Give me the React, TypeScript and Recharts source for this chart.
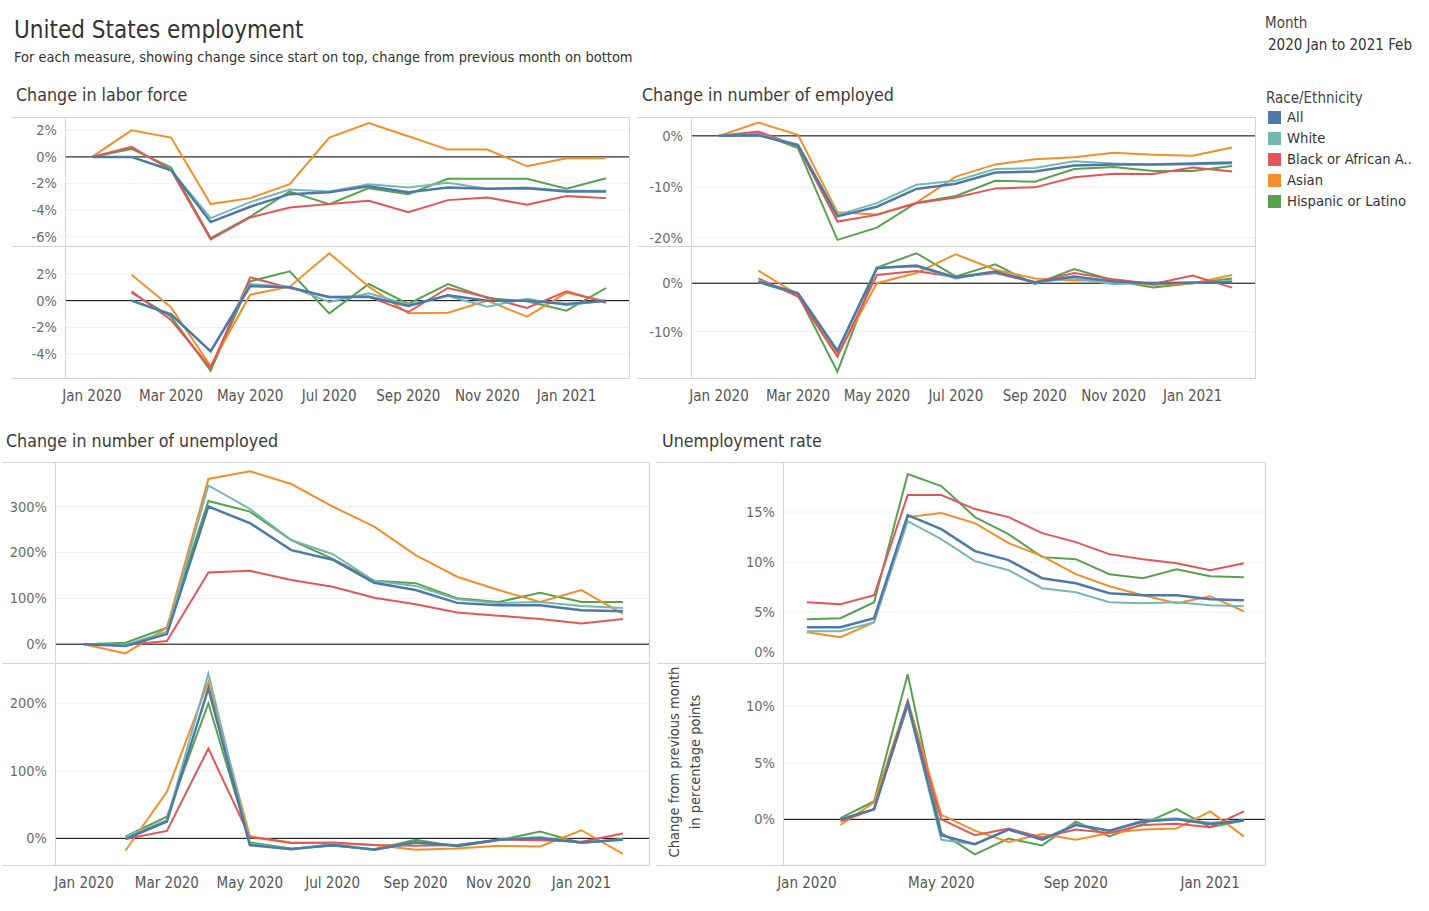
import React from "react";
import { LineChart, Line, XAxis, YAxis, CartesianGrid, ReferenceLine } from "recharts";

const FONT = "'DejaVu Sans Condensed', 'Liberation Sans Narrow', 'Arial Narrow', sans-serif";

const months = ["Jan 2020", "Feb 2020", "Mar 2020", "Apr 2020", "May 2020", "Jun 2020", "Jul 2020", "Aug 2020", "Sep 2020", "Oct 2020", "Nov 2020", "Dec 2020", "Jan 2021", "Feb 2021"];
const seriesKeys = ["hispanic", "asian", "black", "white", "all"];
const legendKeys = ["all", "white", "black", "asian", "hispanic"];
const legendLabels: Record<string, string> = { all: "All", white: "White", black: "Black or African A..", asian: "Asian", hispanic: "Hispanic or Latino" };
const seriesColors: Record<string, string> = { all: "#4e79a7", white: "#76b7b2", black: "#e15759", asian: "#f28e2b", hispanic: "#59a14f" };

// Change in labor force since Jan 2020 (%)
const laborSinceStart: Record<string, (number | null)[]> = {
  all: [0, 0, -1.0, -4.9, -3.75, -2.8, -2.65, -2.2, -2.65, -2.3, -2.4, -2.35, -2.6, -2.6],
  white: [0, 0, -1.0, -4.6, -3.4, -2.45, -2.6, -2.05, -2.3, -1.95, -2.4, -2.3, -2.55, -2.55],
  black: [0, 0.75, -1.0, -6.2, -4.55, -3.8, -3.55, -3.3, -4.15, -3.25, -3.05, -3.6, -2.95, -3.1],
  asian: [0, 2.0, 1.45, -3.55, -3.1, -2.05, 1.45, 2.55, 1.55, 0.55, 0.55, -0.7, -0.1, -0.1],
  hispanic: [0, 0.6, -0.8, -6.1, -4.5, -2.6, -3.55, -2.35, -2.8, -1.65, -1.65, -1.65, -2.4, -1.6],
};
// Change in labor force from previous month (%)
const laborMonthly: Record<string, (number | null)[]> = {
  all: [null, 0, -1.05, -3.8, 1.1, 1.0, 0.25, 0.3, -0.4, 0.4, 0, 0, -0.25, 0],
  white: [null, 0, -1.0, -3.8, 1.25, 1.05, -0.1, 0.55, -0.3, 0.35, -0.45, 0.15, -0.35, 0],
  black: [null, 0.7, -1.45, -5.05, 1.75, 0.95, 0.3, 0.3, -0.85, 0.95, 0.25, -0.55, 0.7, -0.15],
  asian: [null, 1.95, -0.5, -4.9, 0.45, 1.05, 3.55, 1.05, -0.95, -0.9, 0.0, -1.2, 0.6, -0.05],
  hispanic: [null, 0.6, -1.2, -5.25, 1.45, 2.2, -0.95, 1.25, -0.25, 1.25, 0.2, -0.05, -0.75, 0.95],
};
// Change in number employed since Jan 2020 (%)
const employedSinceStart: Record<string, (number | null)[]> = {
  all: [0, 0.1, -1.8, -15.8, -13.9, -10.4, -9.4, -7.2, -7.0, -5.8, -5.6, -5.6, -5.4, -5.2],
  white: [0, 0.3, -1.7, -15.5, -13.2, -9.6, -8.8, -6.5, -6.3, -5.0, -5.4, -5.6, -5.6, -5.4],
  black: [0, 0.85, -2.0, -16.8, -15.5, -13.2, -12.1, -10.3, -10.1, -8.1, -7.45, -7.5, -6.2, -7.0],
  asian: [0, 2.6, 0.2, -15.0, -15.4, -13.1, -8.0, -5.6, -4.6, -4.2, -3.3, -3.7, -3.9, -2.3],
  hispanic: [0, 0.5, -2.4, -20.4, -18.0, -13.1, -11.8, -8.8, -9.0, -6.5, -6.1, -6.9, -6.9, -5.9],
};
// Change in number employed from previous month (%)
const employedMonthly: Record<string, (number | null)[]> = {
  all: [null, 0.35, -2.1, -14.0, 3.1, 3.65, 1.2, 2.4, 0.2, 1.4, 0.35, 0, 0.15, 0.2],
  white: [null, 0.4, -2.0, -13.9, 3.3, 3.45, 1.0, 2.4, 0.2, 1.0, -0.2, 0.15, 0, 0.5],
  black: [null, 1.0, -2.75, -15.2, 1.7, 2.55, 1.25, 2.1, 0.2, 2.1, 0.8, -0.15, 1.6, -0.9],
  asian: [null, 2.6, -2.4, -14.8, 0.0, 2.1, 6.0, 2.8, 1.0, 0.55, 0.55, -0.35, 0, 1.7],
  hispanic: [null, 0.2, -2.3, -18.3, 3.25, 6.2, 1.4, 3.9, -0.2, 2.95, 0.55, -0.9, 0, 1.0],
};
// Change in number unemployed since Jan 2020 (%)
const unemployedSinceStart: Record<string, (number | null)[]> = {
  all: [0, -4, 22, 300, 264, 205, 184, 134, 118, 90, 85, 85, 74, 72],
  white: [0, -1, 27, 346, 295, 227, 196, 138, 127, 98, 90, 92, 83, 79],
  black: [0, -2, 7, 156, 160, 140, 125, 101, 87, 69, 62, 55, 45, 55],
  asian: [0, -20, 36, 360, 377, 349, 300, 256, 194, 147, 118, 92, 118, 66],
  hispanic: [0, 3, 36, 312, 289, 227, 186, 138, 133, 100, 92, 112, 92, 92],
};
// Change in number unemployed from previous month (%)
const unemployedMonthly: Record<string, (number | null)[]> = {
  all: [null, -1, 25, 222, -10, -16, -10, -17, -6, -11, -2, 0, -6, -2],
  white: [null, 3, 27, 244, -8, -16, -8, -17, -7, -10, -2, 2, -7, -1],
  black: [null, -1, 11, 133, 2, -7, -6, -10, -11, -10, -2, -3, -5, 7],
  asian: [null, -18, 69, 232, 3, -6, -7, -10, -17, -15, -11, -12, 12, -23],
  hispanic: [null, 3, 32, 200, -6, -15, -11, -16, -2, -12, -3, 10, -7, -1],
};
// Unemployment rate (%)
const unemploymentRate: Record<string, (number | null)[]> = {
  all: [3.5, 3.5, 4.4, 14.7, 13.3, 11.1, 10.2, 8.4, 7.9, 6.9, 6.7, 6.7, 6.3, 6.2],
  white: [3.1, 3.1, 4.0, 14.1, 12.3, 10.1, 9.2, 7.4, 7.0, 6.0, 5.9, 6.0, 5.7, 5.6],
  black: [6.0, 5.8, 6.7, 16.7, 16.7, 15.3, 14.5, 12.9, 12.0, 10.8, 10.3, 9.9, 9.2, 9.9],
  asian: [3.0, 2.5, 4.0, 14.5, 14.9, 13.9, 11.9, 10.6, 8.8, 7.6, 6.7, 5.9, 6.6, 5.1],
  hispanic: [4.3, 4.4, 6.0, 18.8, 17.6, 14.5, 12.8, 10.5, 10.3, 8.8, 8.4, 9.3, 8.6, 8.5],
};
// Unemployment rate change from previous month (percentage points)
const rateMonthly: Record<string, (number | null)[]> = {
  all: [null, 0, 0.9, 10.3, -1.4, -2.2, -0.9, -1.8, -0.5, -1.0, -0.2, 0, -0.4, -0.1],
  white: [null, 0, 0.9, 10.1, -1.8, -2.2, -0.9, -1.8, -0.4, -1.0, -0.1, 0.1, -0.3, -0.1],
  black: [null, -0.2, 0.9, 10.0, 0, -1.4, -0.8, -1.6, -0.9, -1.2, -0.5, -0.4, -0.7, 0.7],
  asian: [null, -0.5, 1.5, 10.5, 0.4, -1.0, -2.0, -1.3, -1.8, -1.2, -0.9, -0.8, 0.7, -1.5],
  hispanic: [null, 0.1, 1.6, 12.8, -1.2, -3.1, -1.7, -2.3, -0.2, -1.5, -0.4, 0.9, -0.7, -0.1],
};

const xTicksEvery2 = [0, 2, 4, 6, 8, 10, 12];
const xTicksEvery4 = [0, 4, 8, 12];

function buildRows(src: Record<string, (number | null)[]>) {
  return months.map((m, i) => {
    const r: any = { i, month: m };
    seriesKeys.forEach((k) => (r[k] = src[k][i]));
    return r;
  });
}

const FRAME = "#d4d4d4";

type SubProps = {
  frameLeft: number;
  frameRight: number;
  axisX: number;
  top: number;
  bottom: number;
  src: Record<string, (number | null)[]>;
  xDomain: [number, number];
  yDomain: [number, number];
  yTicks: number[];
  zeroLine?: boolean;
  xTicks?: number[];
  zeroLabelShift?: number;
};

function SubChart(p: SubProps) {
  const width = p.frameRight - p.frameLeft;
  const plotH = p.bottom - p.top;
  const xAxisH = p.xTicks ? 40 : 0;
  const axisW = p.axisX - p.frameLeft;
  const data = buildRows(p.src);

  const YTick = (props: any) => {
    const v = props.payload.value;
    const dy = v === 0 && p.zeroLabelShift ? p.zeroLabelShift : 0;
    return (
      <text x={axisW - 8} y={props.y + dy} textAnchor="end" dominantBaseline="central" fontSize={14.5} fill="#6b6b6b" fontFamily={FONT}>
        {`${v}%`}
      </text>
    );
  };
  const XTick = (props: any) => (
    <text x={props.x} y={plotH + 18} textAnchor="middle" dominantBaseline="central" fontSize={15} fill="#555" fontFamily={FONT}>
      {months[props.payload.value]}
    </text>
  );

  return (
    <div style={{ position: "absolute", left: p.frameLeft, top: p.top }}>
      <LineChart width={width} height={plotH + xAxisH} data={data} margin={{ top: 0, right: 0, bottom: 0, left: 0 }}>
        <CartesianGrid vertical={false} stroke="#f0f0f0" />
        {p.xTicks ? (
          <XAxis dataKey="i" type="number" domain={p.xDomain} ticks={p.xTicks} interval={0} height={xAxisH} axisLine={false} tickLine={false} tick={<XTick />} allowDataOverflow />
        ) : (
          <XAxis dataKey="i" type="number" domain={p.xDomain} hide allowDataOverflow />
        )}
        <YAxis type="number" domain={p.yDomain} ticks={p.yTicks} interval={0} width={axisW} axisLine={false} tickLine={false} tick={<YTick />} allowDataOverflow />
        {p.zeroLine !== false && <ReferenceLine y={0} stroke="#000" strokeWidth={1} />}
        {seriesKeys.map((k) => (
          <Line key={k} type="linear" dataKey={k} stroke={seriesColors[k]} strokeWidth={k === "all" ? 2.5 : 2} dot={false} activeDot={false} isAnimationActive={false} connectNulls={false} />
        ))}
      </LineChart>
    </div>
  );
}

type PanelProps = {
  title: string;
  titleX: number;
  titleY: number;
  frameLeft: number;
  frameRight: number;
  axisX: number;
  top: number;
  sep: number;
  bottom: number;
  xDomain: [number, number];
  xTicks: number[];
  topSrc: Record<string, (number | null)[]>;
  botSrc: Record<string, (number | null)[]>;
  topDomain: [number, number];
  botDomain: [number, number];
  topTicks: number[];
  botTicks: number[];
  topZero?: boolean;
  topZeroShift?: number;
};

function Hline({ x1, x2, y }: { x1: number; x2: number; y: number }) {
  return <div style={{ position: "absolute", left: x1, top: y, width: x2 - x1, height: 1, background: FRAME }} />;
}
function Vline({ x, y1, y2 }: { x: number; y1: number; y2: number }) {
  return <div style={{ position: "absolute", left: x, top: y1, width: 1, height: y2 - y1, background: FRAME }} />;
}

function Panel(p: PanelProps) {
  return (
    <>
      <div style={{ position: "absolute", left: p.titleX, top: p.titleY - 12, height: 24, lineHeight: "24px", fontSize: 17.7, color: "#3a3a3a", fontFamily: FONT, whiteSpace: "nowrap" }}>
        {p.title}
      </div>
      <SubChart frameLeft={p.frameLeft} frameRight={p.frameRight} axisX={p.axisX} top={p.top} bottom={p.sep} src={p.topSrc} xDomain={p.xDomain} yDomain={p.topDomain} yTicks={p.topTicks} zeroLine={p.topZero} zeroLabelShift={p.topZeroShift} />
      <SubChart frameLeft={p.frameLeft} frameRight={p.frameRight} axisX={p.axisX} top={p.sep} bottom={p.bottom} src={p.botSrc} xDomain={p.xDomain} yDomain={p.botDomain} yTicks={p.botTicks} xTicks={p.xTicks} />
      <Hline x1={p.frameLeft} x2={p.frameRight} y={p.top} />
      <Hline x1={p.frameLeft} x2={p.frameRight} y={p.sep} />
      <Hline x1={p.frameLeft} x2={p.frameRight} y={p.bottom} />
      <Vline x={p.axisX} y1={p.top} y2={p.bottom} />
      <Vline x={p.frameRight} y1={p.top} y2={p.bottom + 1} />
    </>
  );
}

export default function App() {
  return (
    <div style={{ position: "absolute", left: 0, top: 0, width: 1429, height: 911, background: "#fff", fontFamily: FONT, overflow: "hidden" }}>
      <div style={{ position: "absolute", left: 14, top: 14, height: 32, lineHeight: "32px", fontSize: 24, color: "#333", whiteSpace: "nowrap" }}>United States employment</div>
      <div style={{ position: "absolute", left: 14, top: 47, height: 20, lineHeight: "20px", fontSize: 14.5, color: "#333", whiteSpace: "nowrap" }}>
        For each measure, showing change since start on top, change from previous month on bottom
      </div>

      <Panel
        title="Change in labor force" titleX={16} titleY={95}
        frameLeft={12} frameRight={629} axisX={65} top={117} sep={246} bottom={378}
        xDomain={[-0.683, 13.58]} xTicks={xTicksEvery2}
        topSrc={laborSinceStart} botSrc={laborMonthly}
        topDomain={[-6.7, 3.0]} botDomain={[-5.8, 4.1]}
        topTicks={[2, 0, -2, -4, -6]} botTicks={[2, 0, -2, -4]}
      />
      <Panel
        title="Change in number of employed" titleX={642} titleY={95}
        frameLeft={637} frameRight={1255} axisX={691} top={117} sep={246} bottom={378}
        xDomain={[-0.71, 13.58]} xTicks={xTicksEvery2}
        topSrc={employedSinceStart} botSrc={employedMonthly}
        topDomain={[-21.6, 3.7]} botDomain={[-19.6, 7.7]}
        topTicks={[0, -10, -20]} botTicks={[0, -10]}
      />
      <Panel
        title="Change in number of unemployed" titleX={6} titleY={441}
        frameLeft={2} frameRight={649} axisX={55} top={462} sep={663} bottom={865}
        xDomain={[-0.7, 13.63]} xTicks={xTicksEvery2}
        topSrc={unemployedSinceStart} botSrc={unemployedMonthly}
        topDomain={[-41, 397]} botDomain={[-39.5, 259.7]}
        topTicks={[0, 100, 200, 300]} botTicks={[0, 100, 200]}
      />
      <Panel
        title="Unemployment rate" titleX={662} titleY={441}
        frameLeft={657} frameRight={1265} axisX={783} top={462} sep={663} bottom={865}
        xDomain={[-0.71, 13.63]} xTicks={xTicksEvery4}
        topSrc={unemploymentRate} botSrc={rateMonthly}
        topDomain={[-0.07, 20]} botDomain={[-4.03, 13.8]}
        topTicks={[0, 5, 10, 15]} botTicks={[0, 5, 10]}
        topZero={false} topZeroShift={-10}
      />

      <div style={{ position: "absolute", left: 686 - 110, top: 762 - 22, width: 220, height: 44, transform: "rotate(-90deg)", textAlign: "center", fontSize: 14.5, lineHeight: "21px", color: "#444", whiteSpace: "nowrap" }}>
        Change from previous month
        <br />
        in percentage points
      </div>

      <div style={{ position: "absolute", left: 1265, top: 13, height: 20, lineHeight: "20px", fontSize: 15, color: "#444" }}>Month</div>
      <div style={{ position: "absolute", left: 1268, top: 35, height: 20, lineHeight: "20px", fontSize: 15, color: "#333" }}>2020 Jan to 2021 Feb</div>
      <div style={{ position: "absolute", left: 1266, top: 88, height: 20, lineHeight: "20px", fontSize: 15, color: "#444" }}>Race/Ethnicity</div>
      {legendKeys.map((k, idx) => (
        <div key={k} style={{ position: "absolute", left: 1268, top: 107 + idx * 21, height: 20, display: "flex", alignItems: "center", whiteSpace: "nowrap" }}>
          <div style={{ width: 13, height: 13, background: seriesColors[k], marginRight: 6 }} />
          <span style={{ fontSize: 14.7, color: "#333", lineHeight: "20px" }}>{legendLabels[k]}</span>
        </div>
      ))}
    </div>
  );
}
